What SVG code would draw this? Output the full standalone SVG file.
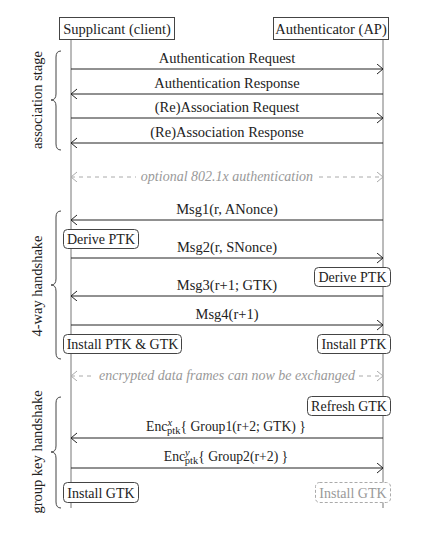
<svg xmlns="http://www.w3.org/2000/svg" width="433" height="541" viewBox="0 0 433 541" font-family="'Liberation Serif', 'Times New Roman', 'DejaVu Serif', serif">
<defs>
<style>
text{font-family:'Liberation Serif','Times New Roman','DejaVu Serif',serif;font-size:14.5px;fill:#222}
.lbl{text-anchor:middle}
.bx{font-size:14px}
.enc{font-size:13.7px}
.opt{text-anchor:middle;font-style:italic;fill:#999;font-size:14px}
.box{fill:#fff;stroke:#444;stroke-width:1}
.act{fill:#fff;stroke:#444;stroke-width:1}
.life{stroke:#777;stroke-width:1;fill:none}
.msg{stroke:#222;stroke-width:1;fill:none;marker-end:url(#ah)}
.dsh{stroke:#aaa;stroke-width:1;fill:none;stroke-dasharray:4 4;marker-start:url(#ahs);marker-end:url(#ahg)}
.brace{stroke:#444;stroke-width:1;fill:none}
</style>
<marker id="ah" markerWidth="10" markerHeight="12" refX="7" refY="5" orient="auto" markerUnits="userSpaceOnUse">
<path d="M1,0 L7,5 L1,10" fill="none" stroke="#222" stroke-width="1"/>
</marker>
<marker id="ahg" markerWidth="10" markerHeight="12" refX="7" refY="5" orient="auto" markerUnits="userSpaceOnUse">
<path d="M1,0 L7,5 L1,10" fill="none" stroke="#aaa" stroke-width="1"/>
</marker>
<marker id="ahs" markerWidth="10" markerHeight="12" refX="7" refY="5" orient="auto-start-reverse" markerUnits="userSpaceOnUse">
<path d="M1,0 L7,5 L1,10" fill="none" stroke="#aaa" stroke-width="1"/>
</marker>
</defs>
<rect width="433" height="541" fill="#fff"/>

<g id="lifelines">
<line class="life" x1="71" y1="39" x2="71" y2="508"/>
<line class="life" x1="383" y1="39" x2="383" y2="508"/>
</g>

<g id="supplicant">
<rect class="box" x="59.5" y="17.5" width="115" height="22"/>
<text x="117" y="33.5" class="lbl">Supplicant (client)</text>
</g>
<g id="authenticator">
<rect class="box" x="273.5" y="17.5" width="115" height="22"/>
<text x="331" y="33.5" class="lbl">Authenticator (AP)</text>
</g>

<g id="braces">
<path class="brace" d="M61,51 Q56,51 56,57 L56,94 Q56,100 51,100 Q56,100 56,106 L56,144 Q56,150 61,150"/>
<path class="brace" d="M61,211 Q56,211 56,217 L56,279 Q56,285 51,285 Q56,285 56,291 L56,353 Q56,359 61,359"/>
<path class="brace" d="M61,397 Q56,397 56,403 L56,446 Q56,452 51,452 Q56,452 56,458 L56,502 Q56,508 61,508"/>
<text class="lbl" transform="translate(42,100) rotate(-90)">association stage</text>
<text class="lbl" transform="translate(42,286) rotate(-90)">4-way handshake</text>
<text class="lbl" transform="translate(42,452) rotate(-90)">group key handshake</text>
</g>

<g id="connectors">
<line class="msg" x1="71" y1="69" x2="383" y2="69"/>
<line class="msg" x1="383" y1="94" x2="71" y2="94"/>
<line class="msg" x1="71" y1="118" x2="383" y2="118"/>
<line class="msg" x1="383" y1="143" x2="71" y2="143"/>
<line class="dsh" x1="71" y1="177" x2="383" y2="177"/>
<line class="msg" x1="383" y1="220" x2="71" y2="220"/>
<line class="msg" x1="71" y1="258" x2="383" y2="258"/>
<line class="msg" x1="383" y1="296" x2="71" y2="296"/>
<line class="msg" x1="71" y1="325" x2="383" y2="325"/>
<line class="dsh" x1="71" y1="376" x2="383" y2="376"/>
<line class="msg" x1="383" y1="438" x2="71" y2="438"/>
<line class="msg" x1="71" y1="468" x2="383" y2="468"/>
</g>

<g id="labels">
<text x="227" y="63" class="lbl">Authentication Request</text>
<text x="227" y="88" class="lbl">Authentication Response</text>
<text x="227" y="112" class="lbl">(Re)Association Request</text>
<text x="227" y="137" class="lbl">(Re)Association Response</text>
<rect x="136" y="168" width="182" height="18" fill="#fff"/>
<text x="227" y="181" class="opt">optional 802.1x authentication</text>
<text x="227" y="214" class="lbl">Msg1(r, ANonce)</text>
<text x="227" y="252" class="lbl">Msg2(r, SNonce)</text>
<text x="227" y="290" class="lbl">Msg3(r+1; GTK)</text>
<text x="227" y="319" class="lbl">Msg4(r+1)</text>
<rect x="95" y="367" width="264" height="18" fill="#fff"/>
<text x="227" y="380" class="opt">encrypted data frames can now be exchanged</text>
<text x="226" y="431" class="lbl enc">Enc<tspan font-style="italic" font-size="10.5" dy="-5">x</tspan><tspan font-size="10.5" dx="-5" dy="8">ptk</tspan><tspan dy="-3">{ Group1(r+2; GTK) }</tspan></text>
<text x="226" y="461" class="lbl enc">Enc<tspan font-style="italic" font-size="10.5" dy="-5">y</tspan><tspan font-size="10.5" dx="-5" dy="8">ptk</tspan><tspan dy="-3">{ Group2(r+2) }</tspan></text>
</g>

<g id="derive-ptk-s">
<rect class="act" x="63.5" y="229.5" width="75" height="19" rx="4"/>
<text x="101" y="244" class="lbl bx">Derive PTK</text>
</g>
<g id="derive-ptk-a">
<rect class="act" x="314.5" y="267.5" width="76" height="19" rx="4"/>
<text x="352.5" y="282" class="lbl bx">Derive PTK</text>
</g>
<g id="install-ptk-gtk-s">
<rect class="act" x="63.5" y="334.5" width="118" height="19" rx="4"/>
<text x="122.5" y="349" class="lbl bx">Install PTK &amp; GTK</text>
</g>
<g id="install-ptk-a">
<rect class="act" x="317.5" y="334.5" width="73" height="19" rx="4"/>
<text x="354" y="349" class="lbl bx">Install PTK</text>
</g>
<g id="refresh-gtk-a">
<rect class="act" x="307.5" y="396.5" width="83" height="19" rx="4"/>
<text x="349" y="411" class="lbl bx">Refresh GTK</text>
</g>
<g id="install-gtk-s">
<rect class="act" x="63.5" y="482.5" width="75" height="20" rx="4"/>
<text x="101" y="497.5" class="lbl bx">Install GTK</text>
</g>
<g id="install-gtk-a">
<rect x="315.5" y="482.5" width="75" height="20" rx="4" fill="#fff" stroke="#aaa" stroke-dasharray="3 2"/>
<text x="353" y="497.5" class="lbl bx" style="fill:#999">Install GTK</text>
</g>
</svg>
